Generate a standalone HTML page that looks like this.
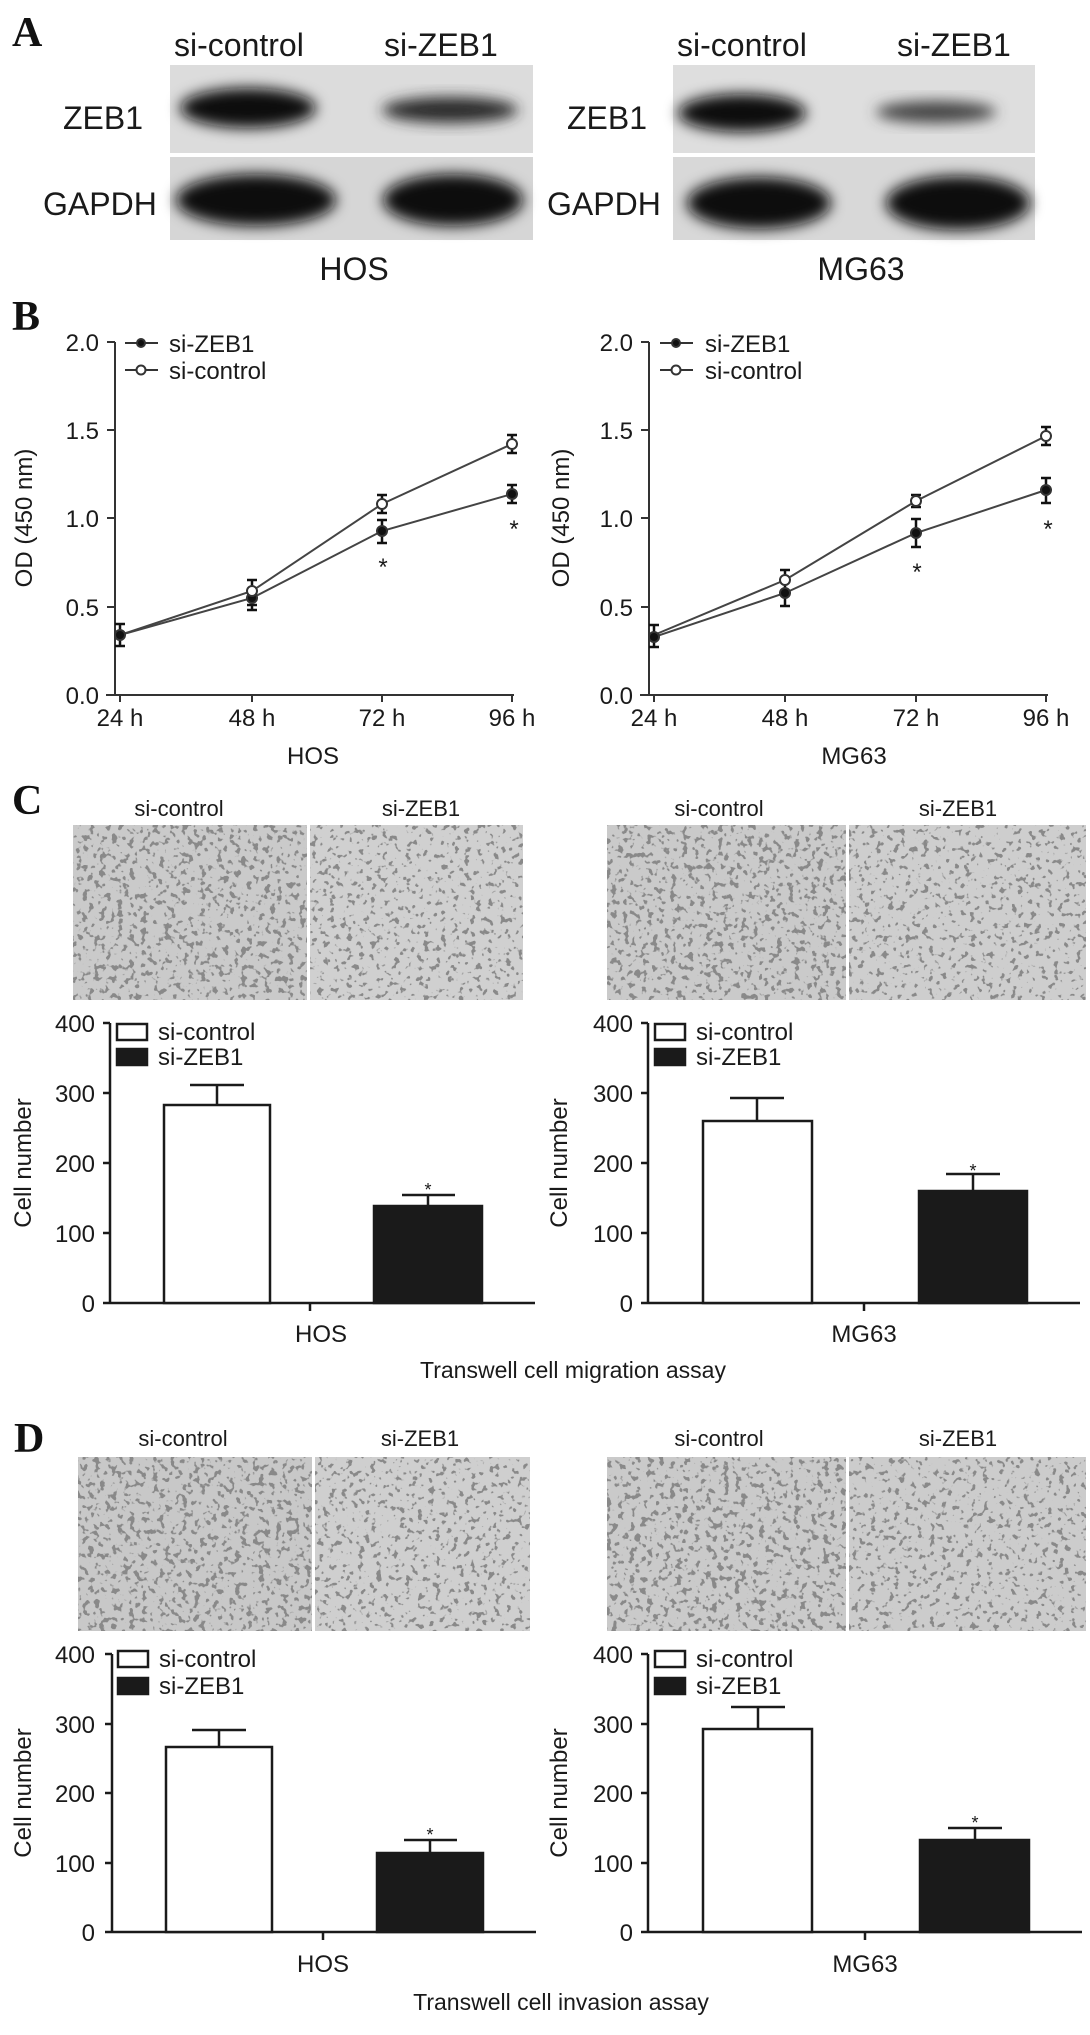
<!DOCTYPE html>
<html><head><meta charset="utf-8"><style>
html,body{margin:0;padding:0;background:#fff}
svg{display:block}
text{font-family:"Liberation Sans",Arial,sans-serif;fill:#1a1a1a}
.L{font-family:"Liberation Serif",serif;font-weight:bold;font-size:42px;fill:#111}
.t{font-size:24px}
.b{font-size:32px}
</style></head><body>
<svg width="1090" height="2035" viewBox="0 0 1090 2035" xmlns="http://www.w3.org/2000/svg">
<defs>
<filter id="blur" x="-20%" y="-50%" width="140%" height="200%"><feGaussianBlur stdDeviation="7"/></filter>
<filter id="cells" x="0" y="0" width="100%" height="100%">
<feTurbulence type="fractalNoise" baseFrequency="0.17" numOctaves="2" seed="3" result="n"/>
<feColorMatrix in="n" type="matrix" values="0 0 0 0 0.25  0 0 0 0 0.25  0 0 0 0 0.25  -14 0 0 0 6.0" result="spots"/>
<feComposite in="spots" in2="SourceGraphic" operator="over"/>
</filter>
<filter id="cells2" x="0" y="0" width="100%" height="100%">
<feTurbulence type="fractalNoise" baseFrequency="0.17" numOctaves="2" seed="8" result="n"/>
<feColorMatrix in="n" type="matrix" values="0 0 0 0 0.25  0 0 0 0 0.25  0 0 0 0 0.25  -14 0 0 0 5.6" result="spots"/>
<feComposite in="spots" in2="SourceGraphic" operator="over"/>
</filter>
</defs>

<!-- Panel A -->
<text class="L" x="12" y="46">A</text>
<text class="b" x="174" y="56">si-control</text>
<text class="b" x="384" y="56">si-ZEB1</text>
<text class="b" x="677" y="56">si-control</text>
<text class="b" x="897" y="56">si-ZEB1</text>
<text class="b" x="63" y="129">ZEB1</text>
<text class="b" x="43" y="215">GAPDH</text>
<text class="b" x="567" y="129">ZEB1</text>
<text class="b" x="547" y="215">GAPDH</text>
<text class="b" x="354" y="280" text-anchor="middle">HOS</text>
<text class="b" x="861" y="280" text-anchor="middle">MG63</text>
<g>
<rect x="170" y="65" width="363" height="88" fill="#dcdcdc"/>
<rect x="170" y="157" width="363" height="83" fill="#d6d6d6"/>
<ellipse cx="248" cy="108" rx="68" ry="20" fill="#0d0d0d" filter="url(#blur)"/>
<ellipse cx="450" cy="110" rx="68" ry="13" fill="#2a2a2a" filter="url(#blur)"/>
<ellipse cx="256" cy="200" rx="80" ry="26" fill="#0d0d0d" filter="url(#blur)"/>
<ellipse cx="453" cy="200" rx="70" ry="26" fill="#0d0d0d" filter="url(#blur)"/>
</g>
<g>
<rect x="673" y="65" width="362" height="88" fill="#dedede"/>
<rect x="673" y="157" width="362" height="83" fill="#d8d8d8"/>
<ellipse cx="742" cy="113" rx="64" ry="19" fill="#0d0d0d" filter="url(#blur)"/>
<ellipse cx="936" cy="112" rx="60" ry="11" fill="#444" filter="url(#blur)"/>
<ellipse cx="759" cy="203" rx="72" ry="26" fill="#0d0d0d" filter="url(#blur)"/>
<ellipse cx="958" cy="203" rx="72" ry="27" fill="#0d0d0d" filter="url(#blur)"/>
</g>

<!-- Panel B -->
<text class="L" x="12" y="330">B</text>
<g stroke="#333" stroke-width="2" fill="none">
<path d="M115 342 V695 M106 695 H514 M107 342 H115 M107 430 H115 M107 518 H115 M107 607 H115 M107 695 H115 M120 695 v7 M252 695 v7 M382 695 v7 M512 695 v7"/>
<path d="M649 342 V695 M640 695 H1048 M641 342 H649 M641 430 H649 M641 518 H649 M641 607 H649 M641 695 H649 M654 695 v7 M785 695 v7 M916 695 v7 M1046 695 v7"/>
</g>
<g class="t" text-anchor="end">
<text x="99" y="351">2.0</text><text x="99" y="439">1.5</text><text x="99" y="527">1.0</text><text x="99" y="616">0.5</text><text x="99" y="704">0.0</text>
<text x="633" y="351">2.0</text><text x="633" y="439">1.5</text><text x="633" y="527">1.0</text><text x="633" y="616">0.5</text><text x="633" y="704">0.0</text>
</g>
<g class="t" text-anchor="middle">
<text x="120" y="726">24 h</text><text x="252" y="726">48 h</text><text x="382" y="726">72 h</text><text x="512" y="726">96 h</text>
<text x="654" y="726">24 h</text><text x="785" y="726">48 h</text><text x="916" y="726">72 h</text><text x="1046" y="726">96 h</text>
<text x="313" y="764">HOS</text><text x="854" y="764">MG63</text>
<text transform="translate(32,518) rotate(-90)">OD (450 nm)</text>
<text transform="translate(569,518) rotate(-90)">OD (450 nm)</text>
</g>
<g stroke="#333" stroke-width="2">
<path d="M125 343 H158 M125 370 H158 M660 343 H693 M660 370 H693"/>
<circle cx="141" cy="343" r="4" fill="#111"/><circle cx="141" cy="370" r="4.5" fill="#fff"/>
<circle cx="676" cy="343" r="4" fill="#111"/><circle cx="676" cy="370" r="4.5" fill="#fff"/>
</g>
<g class="t"><text x="169" y="352">si-ZEB1</text><text x="169" y="379">si-control</text>
<text x="705" y="352">si-ZEB1</text><text x="705" y="379">si-control</text></g>
<g stroke="#444" stroke-width="2" fill="none">
<polyline points="120,635 252,591 382,504 512,444"/>
<polyline points="120,635 252,598 382,531 512,494"/>
<polyline points="654,635 785,580 916,501 1046,436"/>
<polyline points="654,637 785,593 916,533 1046,490"/>
</g>
<g stroke="#111" stroke-width="2.5">
<path d="M120 624 V646 M115 624 h10 M115 646 h10  M252 580 V605 M247 580 h10 M247 605 h10  M382 495 V513 M377 495 h10 M377 513 h10  M512 435 V453 M507 435 h10 M507 453 h10"/>
<path d="M252 586 V610 M247 610 h10  M382 520 V543 M377 520 h10 M377 543 h10  M512 485 V503 M507 485 h10 M507 503 h10"/>
<path d="M654 625 V647 M649 625 h10 M649 647 h10  M785 570 V590 M780 570 h10  M785 580 V606 M780 606 h10  M916 495 V507 M911 495 h10 M911 507 h10  M1046 427 V445 M1041 427 h10 M1041 445 h10"/>
<path d="M916 519 V547 M911 519 h10 M911 547 h10  M1046 478 V503 M1041 478 h10 M1041 503 h10"/>
</g>
<g stroke="#333" stroke-width="2">
<circle cx="120" cy="635" r="5" fill="#111"/><circle cx="252" cy="598" r="5" fill="#111"/><circle cx="382" cy="531" r="5" fill="#111"/><circle cx="512" cy="494" r="5" fill="#111"/>
<circle cx="252" cy="591" r="5" fill="#fff"/><circle cx="382" cy="504" r="5" fill="#fff"/><circle cx="512" cy="444" r="5" fill="#fff"/>
<circle cx="654" cy="637" r="5" fill="#111"/><circle cx="785" cy="593" r="5" fill="#111"/><circle cx="916" cy="533" r="5" fill="#111"/><circle cx="1046" cy="490" r="5" fill="#111"/>
<circle cx="785" cy="580" r="5" fill="#fff"/><circle cx="916" cy="501" r="5" fill="#fff"/><circle cx="1046" cy="436" r="5" fill="#fff"/>
</g>
<g class="t" text-anchor="middle" fill="#555"><text x="383" y="575">*</text><text x="514" y="537">*</text><text x="917" y="580">*</text><text x="1048" y="537">*</text></g>

<!-- Panel C -->
<text class="L" x="12" y="814">C</text>
<g class="t" text-anchor="middle">
<text x="179" y="816" font-size="22">si-control</text><text x="421" y="816" font-size="22">si-ZEB1</text>
<text x="719" y="816" font-size="22">si-control</text><text x="958" y="816" font-size="22">si-ZEB1</text>
<text x="183" y="1446" font-size="22">si-control</text><text x="420" y="1446" font-size="22">si-ZEB1</text>
<text x="719" y="1446" font-size="22">si-control</text><text x="958" y="1446" font-size="22">si-ZEB1</text>
</g>
<g>
<rect x="73" y="825" width="234" height="175" fill="#cacaca" filter="url(#cells)"/>
<rect x="310" y="825" width="213" height="175" fill="#d0d0d0" filter="url(#cells2)"/>
<rect x="607" y="825" width="239" height="175" fill="#cacaca" filter="url(#cells)"/>
<rect x="849" y="825" width="237" height="175" fill="#cecece" filter="url(#cells2)"/>
<rect x="78" y="1457" width="234" height="174" fill="#c8c8c8" filter="url(#cells)"/>
<rect x="315" y="1457" width="215" height="174" fill="#cfcfcf" filter="url(#cells2)"/>
<rect x="607" y="1457" width="239" height="174" fill="#cacaca" filter="url(#cells)"/>
<rect x="849" y="1457" width="237" height="174" fill="#cccccc" filter="url(#cells2)"/>
</g>

<g stroke="#1a1a1a" stroke-width="2.5" fill="none">
<path d="M110 1023 V1303 M103 1303 H535 M103 1023 H110 M103 1093 H110 M103 1163 H110 M103 1233 H110 M310 1303 v8"/>
<rect x="164" y="1105" width="106" height="198" fill="#fff"/>
<path d="M217 1105 V1085 M190 1085 H244"/>
<rect x="374" y="1206" width="108" height="97" fill="#1a1a1a"/>
<path d="M428 1206 V1195 M402 1195 H455"/>
<rect x="117" y="1024" width="30" height="16" fill="#fff"/><rect x="117" y="1049" width="30" height="16" fill="#1a1a1a"/>
</g>
<g stroke="#1a1a1a" stroke-width="2.5" fill="none">
<path d="M648 1023 V1303 M641 1303 H1080 M641 1023 H648 M641 1093 H648 M641 1163 H648 M641 1233 H648 M864 1303 v8"/>
<rect x="703" y="1121" width="109" height="182" fill="#fff"/>
<path d="M757 1121 V1098 M730 1098 H784"/>
<rect x="919" y="1191" width="108" height="112" fill="#1a1a1a"/>
<path d="M973 1191 V1174 M946 1174 H1000"/>
<rect x="655" y="1024" width="30" height="16" fill="#fff"/><rect x="655" y="1049" width="30" height="16" fill="#1a1a1a"/>
</g>
<g class="t" text-anchor="end">
<text x="95" y="1032">400</text><text x="95" y="1102">300</text><text x="95" y="1172">200</text><text x="95" y="1242">100</text><text x="95" y="1312">0</text>
<text x="633" y="1032">400</text><text x="633" y="1102">300</text><text x="633" y="1172">200</text><text x="633" y="1242">100</text><text x="633" y="1312">0</text>
</g>
<g class="t">
<text x="158" y="1040">si-control</text><text x="158" y="1065">si-ZEB1</text>
<text x="696" y="1040">si-control</text><text x="696" y="1065">si-ZEB1</text>
</g>
<g class="t" text-anchor="middle">
<text x="321" y="1342">HOS</text><text x="864" y="1342">MG63</text>
<text x="573" y="1378" font-size="23">Transwell cell migration assay</text>
<text transform="translate(31,1163) rotate(-90)">Cell number</text>
<text transform="translate(567,1163) rotate(-90)">Cell number</text>
<text x="428" y="1196" font-size="18" fill="#555">*</text><text x="973" y="1177" font-size="18" fill="#555">*</text>
</g>

<!-- Panel D -->
<text class="L" x="14" y="1452">D</text>
<g stroke="#1a1a1a" stroke-width="2.5" fill="none">
<path d="M112 1654 V1932 M105 1932 H536 M105 1654 H112 M105 1724 H112 M105 1793 H112 M105 1863 H112 M323 1932 v8"/>
<rect x="166" y="1747" width="106" height="185" fill="#fff"/>
<path d="M219 1747 V1730 M192 1730 H246"/>
<rect x="377" y="1853" width="106" height="79" fill="#1a1a1a"/>
<path d="M430 1853 V1840 M404 1840 H457"/>
<rect x="118" y="1651" width="30" height="16" fill="#fff"/><rect x="118" y="1678" width="30" height="16" fill="#1a1a1a"/>
</g>
<g stroke="#1a1a1a" stroke-width="2.5" fill="none">
<path d="M648 1654 V1932 M641 1932 H1082 M641 1654 H648 M641 1724 H648 M641 1793 H648 M641 1863 H648 M865 1932 v8"/>
<rect x="703" y="1729" width="109" height="203" fill="#fff"/>
<path d="M758 1729 V1707 M731 1707 H785"/>
<rect x="920" y="1840" width="109" height="92" fill="#1a1a1a"/>
<path d="M975 1840 V1828 M948 1828 H1002"/>
<rect x="655" y="1651" width="30" height="16" fill="#fff"/><rect x="655" y="1678" width="30" height="16" fill="#1a1a1a"/>
</g>
<g class="t" text-anchor="end">
<text x="95" y="1663">400</text><text x="95" y="1733">300</text><text x="95" y="1802">200</text><text x="95" y="1872">100</text><text x="95" y="1941">0</text>
<text x="633" y="1663">400</text><text x="633" y="1733">300</text><text x="633" y="1802">200</text><text x="633" y="1872">100</text><text x="633" y="1941">0</text>
</g>
<g class="t">
<text x="159" y="1667">si-control</text><text x="159" y="1694">si-ZEB1</text>
<text x="696" y="1667">si-control</text><text x="696" y="1694">si-ZEB1</text>
</g>
<g class="t" text-anchor="middle">
<text x="323" y="1972">HOS</text><text x="865" y="1972">MG63</text>
<text x="561" y="2010" font-size="23">Transwell cell invasion assay</text>
<text transform="translate(31,1793) rotate(-90)">Cell number</text>
<text transform="translate(567,1793) rotate(-90)">Cell number</text>
<text x="430" y="1841" font-size="18" fill="#555">*</text><text x="975" y="1829" font-size="18" fill="#555">*</text>
</g>
</svg>
</body></html>
